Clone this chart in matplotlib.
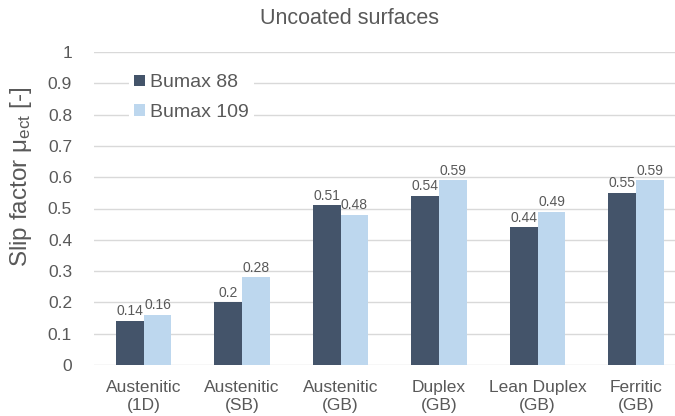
import matplotlib
matplotlib.use("Agg")
import matplotlib.pyplot as plt
import numpy as np

plt.rcParams['font.family'] = ['Liberation Sans', 'DejaVu Sans']

categories = ["Austenitic\n(1D)", "Austenitic\n(SB)", "Austenitic\n(GB)",
              "Duplex\n(GB)", "Lean Duplex\n(GB)", "Ferritic\n(GB)"]
bumax88 = [0.14, 0.2, 0.51, 0.54, 0.44, 0.55]
bumax109 = [0.16, 0.28, 0.48, 0.59, 0.49, 0.59]
series_names = ["Bumax 88", "Bumax 109"]
yticks = [0, 0.1, 0.2, 0.3, 0.4, 0.5, 0.6, 0.7, 0.8, 0.9, 1]
ytick_labels = ["0", "0.1", "0.2", "0.3", "0.4", "0.5", "0.6", "0.7", "0.8", "0.9", "1"]

dark = "#44546A"
light = "#BDD7EE"
txt = "#595959"
grid = "#D9D9D9"

fig = plt.figure(figsize=(6.75, 4.16), dpi=100)
W, H = 675, 416
ax = fig.add_axes([94.25 / W, 1 - 365 / H, 591 / W, (365 - 52) / H])

x = np.arange(len(categories))
bw = 0.284
b1 = ax.bar(x - bw / 2, bumax88, bw, color=dark, label=series_names[0], zorder=3)
b2 = ax.bar(x + bw / 2, bumax109, bw, color=light, label=series_names[1], zorder=3)

for bars, vals in ((b1, bumax88), (b2, bumax109)):
    for r, v in zip(bars, vals):
        ax.annotate(f"{v:g}", (r.get_x() + r.get_width() / 2, v),
                    xytext=(0, 2), textcoords="offset points",
                    ha="center", va="bottom", fontsize=10, color=txt, zorder=4)

ax.set_xlim(-0.5, len(categories) - 0.5)
ax.set_ylim(0, 1)
ax.set_yticks(yticks)
ax.set_yticklabels(ytick_labels)
ax.set_xticks(x)
ax.set_xticklabels(categories, linespacing=1.2)
ax.tick_params(axis="both", length=0, labelsize=12.5, colors=txt)
ax.tick_params(axis="y", pad=16)
ax.tick_params(axis="x", pad=11)
ax.yaxis.grid(True, color=grid, linewidth=1, zorder=0)
for s in ax.spines.values():
    s.set_visible(False)
ax.set_axisbelow(True)

fig.text(21 / W, 1 - 177 / H, r"Slip factor $\mathregular{\mu_{ect}}$ [-]",
         rotation=90, ha="center", va="center", fontsize=17.5, color=txt)
fig.text(349 / W, 1 - 18 / H, "Uncoated surfaces", ha="center", va="center",
         fontsize=15.5, color=txt)

leg = ax.legend(loc="upper left", bbox_to_anchor=((128.5 - 94.25) / 591, (365 - 68.5) / 313),
                borderaxespad=0, frameon=True, fancybox=False, edgecolor="none",
                facecolor="white", framealpha=1, fontsize=14, labelcolor=txt,
                handlelength=0.55, handleheight=0.55, handletextpad=0.25,
                labelspacing=0.63, borderpad=0.3)

fig.savefig("out.png", dpi=100)
